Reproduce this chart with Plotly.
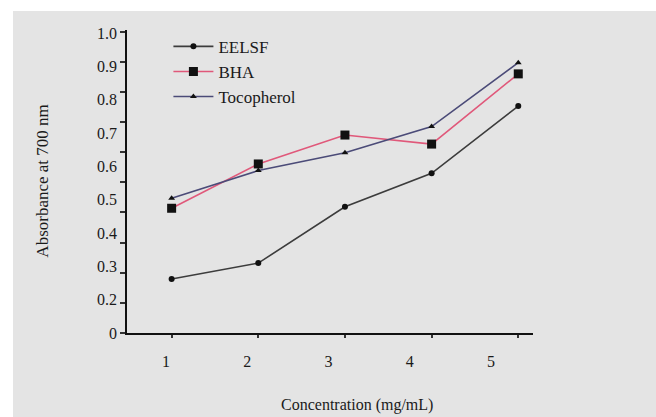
import plotly.graph_objects as go

concentration = [1, 2, 3, 4, 5]
eelsf = [0.179, 0.232, 0.419, 0.530, 0.753]
bha = [0.414, 0.561, 0.657, 0.627, 0.860]
tocopherol = [0.447, 0.539, 0.598, 0.685, 0.897]

y_tick_vals = [0, 0.1, 0.2, 0.3, 0.4, 0.5, 0.6, 0.7, 0.8, 0.9, 1.0]
y_label_text = ["0", "0.2", "0.3", "0.4", "0.5", "0.6", "0.7", "0.8", "0.9", "1.0"]
x_label_text = ["1", "2", "3", "4", "5"]

FONT = "Liberation Serif, Times New Roman, serif"
GRAY = "#e4e4e4"

fig = go.Figure()
fig.add_trace(go.Scatter(x=concentration, y=eelsf, name="EELSF", mode="lines+markers",
                         legendgroup="a",
                         line=dict(color="#3c3c3c", width=1.6),
                         marker=dict(symbol="circle", size=6, color="#111111")))
fig.add_trace(go.Scatter(x=concentration, y=bha, name="BHA", mode="lines+markers",
                         legendgroup="b",
                         line=dict(color="#e0587a", width=1.6),
                         marker=dict(symbol="square", size=9, color="#111111")))
fig.add_trace(go.Scatter(x=concentration, y=tocopherol, name="Tocopherol", mode="lines+markers",
                         legendgroup="c",
                         line=dict(color="#4b4b78", width=1.6),
                         marker=dict(symbol="triangle-up", size=6, color="#111111")))
# empty trace to activate the label-only overlay axes
fig.add_trace(go.Scatter(x=[], y=[], xaxis="x2", yaxis="y2", showlegend=False, hoverinfo="skip"))

fig.update_layout(
    width=656, height=417,
    margin=dict(l=127, r=123, t=30, b=84),
    paper_bgcolor=GRAY, plot_bgcolor=GRAY,
    font=dict(family=FONT, size=16, color="#1a1a1a"),
    showlegend=True,
    legend=dict(x=0.102, y=1.004, xanchor="left", yanchor="top",
                bgcolor="rgba(0,0,0,0)", font=dict(size=17, family=FONT),
                tracegroupgap=0, itemwidth=40),
    xaxis=dict(range=[0.485, 5.17], showgrid=False, zeroline=False,
               showline=True, linecolor="#111111", linewidth=2,
               tickvals=concentration, showticklabels=False,
               ticks="outside", ticklen=3, tickwidth=2, tickcolor="#333333"),
    yaxis=dict(range=[0, 1.0056], showgrid=False, zeroline=False,
               showline=True, linecolor="#111111", linewidth=2,
               tickvals=y_tick_vals, showticklabels=False,
               ticks="outside", ticklen=5, tickwidth=2, tickcolor="#333333"),
    xaxis2=dict(overlaying="x", side="bottom", anchor="y2", range=[0.52, 5.517],
                showgrid=False, zeroline=False, showline=False,
                tickvals=concentration, ticktext=x_label_text, ticks="",
                ticklabelstandoff=17, tickfont=dict(size=16, family=FONT)),
    yaxis2=dict(overlaying="y", side="left", anchor="x2", range=[0, 9.09],
                showgrid=False, zeroline=False, showline=False,
                tickvals=list(range(10)), ticktext=y_label_text, ticks="",
                ticklabelstandoff=9, tickfont=dict(size=16, family=FONT)),
    shapes=[
        dict(type="rect", xref="paper", yref="paper", x0=-0.6, x1=-0.2808, y0=-0.6, y1=1.6,
             fillcolor="white", line=dict(width=0), layer="below"),
        dict(type="rect", xref="paper", yref="paper", x0=-0.6, x1=1.6, y0=1.0627, y1=1.6,
             fillcolor="white", line=dict(width=0), layer="below"),
    ],
    annotations=[
        dict(text="Absorbance at 700 nm", xref="paper", yref="paper", x=-0.209, y=0.5,
             xanchor="center", yanchor="middle",
             textangle=-90, showarrow=False, font=dict(size=17, family=FONT)),
        dict(text="Concentration (mg/mL)", xref="paper", yref="paper", x=0.5665, y=-0.2376,
             xanchor="center", yanchor="middle",
             showarrow=False, font=dict(size=16, family=FONT)),
    ],
)

fig.write_html("out.html", config={"displayModeBar": False},
               post_script="document.body.style.margin='0';document.body.style.background='#e4e4e4';")
